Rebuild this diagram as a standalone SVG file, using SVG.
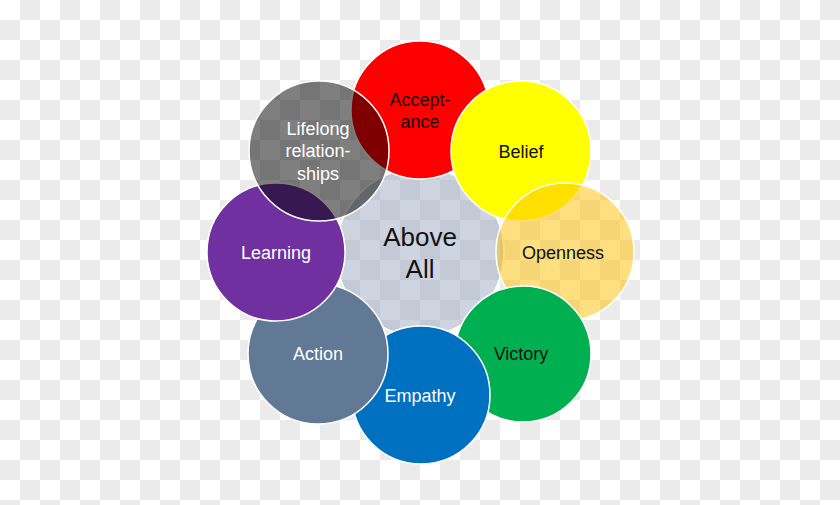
<svg xmlns="http://www.w3.org/2000/svg" width="840" height="505" viewBox="0 0 840 505">
<defs>
<pattern id="checker" x="0" y="0" width="40" height="40" patternUnits="userSpaceOnUse">
<rect width="40" height="40" fill="#ffffff"/>
<rect x="20" y="0" width="20" height="20" fill="#ebebeb"/>
<rect x="0" y="20" width="20" height="20" fill="#ebebeb"/>
</pattern>
</defs>
<style>
.c{stroke:#ffffff;stroke-width:1.5}
.t{font-family:"Liberation Sans","DejaVu Sans",sans-serif;font-size:18px;text-anchor:middle}
.dk{fill:#111111}
.lt{fill:#ffffff}
</style>
<rect width="840" height="505" fill="url(#checker)"/>
<g id="connectors"></g>
<g id="center">
<circle class="c" cx="420" cy="252" r="84" fill="#94a2ba" fill-opacity="0.45"/>
<text class="t dk" x="420" y="246" style="font-size:26px">Above</text>
<text class="t dk" x="420" y="278" style="font-size:26px">All</text>
</g>
<g id="acceptance">
<circle class="c" cx="420" cy="110" r="69" fill="#ff0000"/>
<text class="t" x="420" y="106" fill="#1a0000">Accept-</text>
<text class="t" x="420" y="128" fill="#1a0000">ance</text>
</g>
<g id="belief">
<circle class="c" cx="521" cy="151" r="70" fill="#ffff00"/>
<text class="t dk" x="521" y="158">Belief</text>
</g>
<g id="openness">
<circle class="c" cx="565" cy="252" r="69" fill="#ffc000" fill-opacity="0.5"/>
<text class="t dk" x="563" y="259">Openness</text>
</g>
<g id="victory">
<circle class="c" cx="523" cy="354" r="68" fill="#00b050"/>
<text class="t dk" x="521" y="360">Victory</text>
</g>
<g id="empathy">
<circle class="c" cx="421" cy="395" r="69" fill="#0070c0"/>
<text class="t lt" x="420" y="402">Empathy</text>
</g>
<g id="action">
<circle class="c" cx="318" cy="354" r="70" fill="#617995"/>
<text class="t lt" x="318" y="360">Action</text>
</g>
<g id="learning">
<circle class="c" cx="276" cy="252" r="69" fill="#7030a0"/>
<text class="t lt" x="276" y="259">Learning</text>
</g>
<g id="lifelong">
<circle class="c" cx="319" cy="151" r="70" fill="#000000" fill-opacity="0.5"/>
<text class="t lt" x="318" y="135">Lifelong</text>
<text class="t lt" x="318" y="157">relation-</text>
<text class="t lt" x="318" y="180">ships</text>
</g>
</svg>
